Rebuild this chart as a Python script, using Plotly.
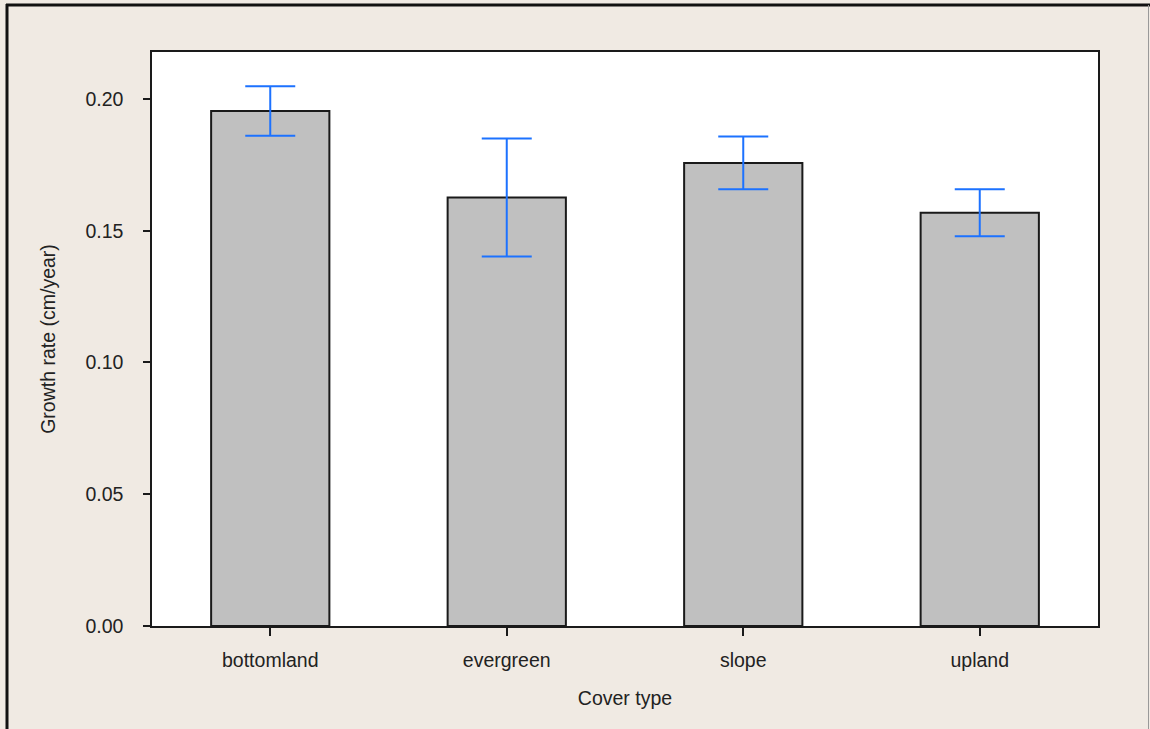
import plotly.graph_objects as go

# Mean growth rate by cover type, with standard error
cover_types = ["bottomland", "evergreen", "slope", "upland"]
growth_rate = [0.1954, 0.1626, 0.1757, 0.1568]
std_error = [0.0094, 0.0224, 0.0100, 0.0089]

W, H = 1150, 729
L, R, T, B = 152, 52, 52, 103
pw, ph = W - L - R, H - T - B


def px_x(x):
    return (x - L) / pw


def px_y(y):
    return (H - B - y) / ph


fig = go.Figure(
    go.Bar(
        x=cover_types,
        y=growth_rate,
        width=0.5,
        marker=dict(color="#c0c0c0", line=dict(color="#1a1a1a", width=2)),
        error_y=dict(
            type="data",
            array=std_error,
            visible=True,
            color="#1c72ff",
            thickness=2,
            width=25,
        ),
        hoverinfo="x+y",
    )
)

font = dict(family="Liberation Sans, Arial, sans-serif", size=19.5, color="#222222")

fig.update_layout(
    width=W,
    height=H,
    margin=dict(l=L, r=R, t=T, b=B),
    paper_bgcolor="#f0eae3",
    plot_bgcolor="#ffffff",
    font=font,
    showlegend=False,
    xaxis=dict(
        range=[-0.5, 3.5],
        showgrid=False,
        showline=True,
        mirror=True,
        linecolor="#1a1a1a",
        linewidth=1.5,
        ticks="outside",
        ticklen=8,
        tickwidth=1.5,
        tickcolor="#1a1a1a",
        ticklabelstandoff=8,
        title=dict(text="Cover type", standoff=21, font=font),
        tickfont=font,
    ),
    yaxis=dict(
        range=[0, 0.2178],
        tickvals=[0, 0.05, 0.10, 0.15, 0.20],
        ticktext=["0.00", "0.05", "0.10", "0.15", "0.20"],
        showgrid=False,
        zeroline=False,
        showline=True,
        mirror=True,
        linecolor="#1a1a1a",
        linewidth=1.5,
        ticks="outside",
        ticklen=7,
        tickwidth=1.5,
        tickcolor="#1a1a1a",
        ticklabelstandoff=16,
        title=dict(text="Growth rate (cm/year)", standoff=25, font=font),
        tickfont=font,
    ),
    shapes=[
        # outer frame: heavy left and top edges, thin right edge
        dict(type="line", xref="paper", yref="paper",
             x0=px_x(7), x1=px_x(7), y0=px_y(4), y1=px_y(H + 5),
             line=dict(color="#111111", width=3)),
        dict(type="line", xref="paper", yref="paper",
             x0=px_x(6), x1=px_x(W), y0=px_y(5), y1=px_y(5),
             line=dict(color="#111111", width=3)),
        dict(type="line", xref="paper", yref="paper",
             x0=px_x(1148.5), x1=px_x(1148.5), y0=px_y(5), y1=px_y(H + 5),
             line=dict(color="#999999", width=1)),
    ],
)

fig.write_html("out.html")
